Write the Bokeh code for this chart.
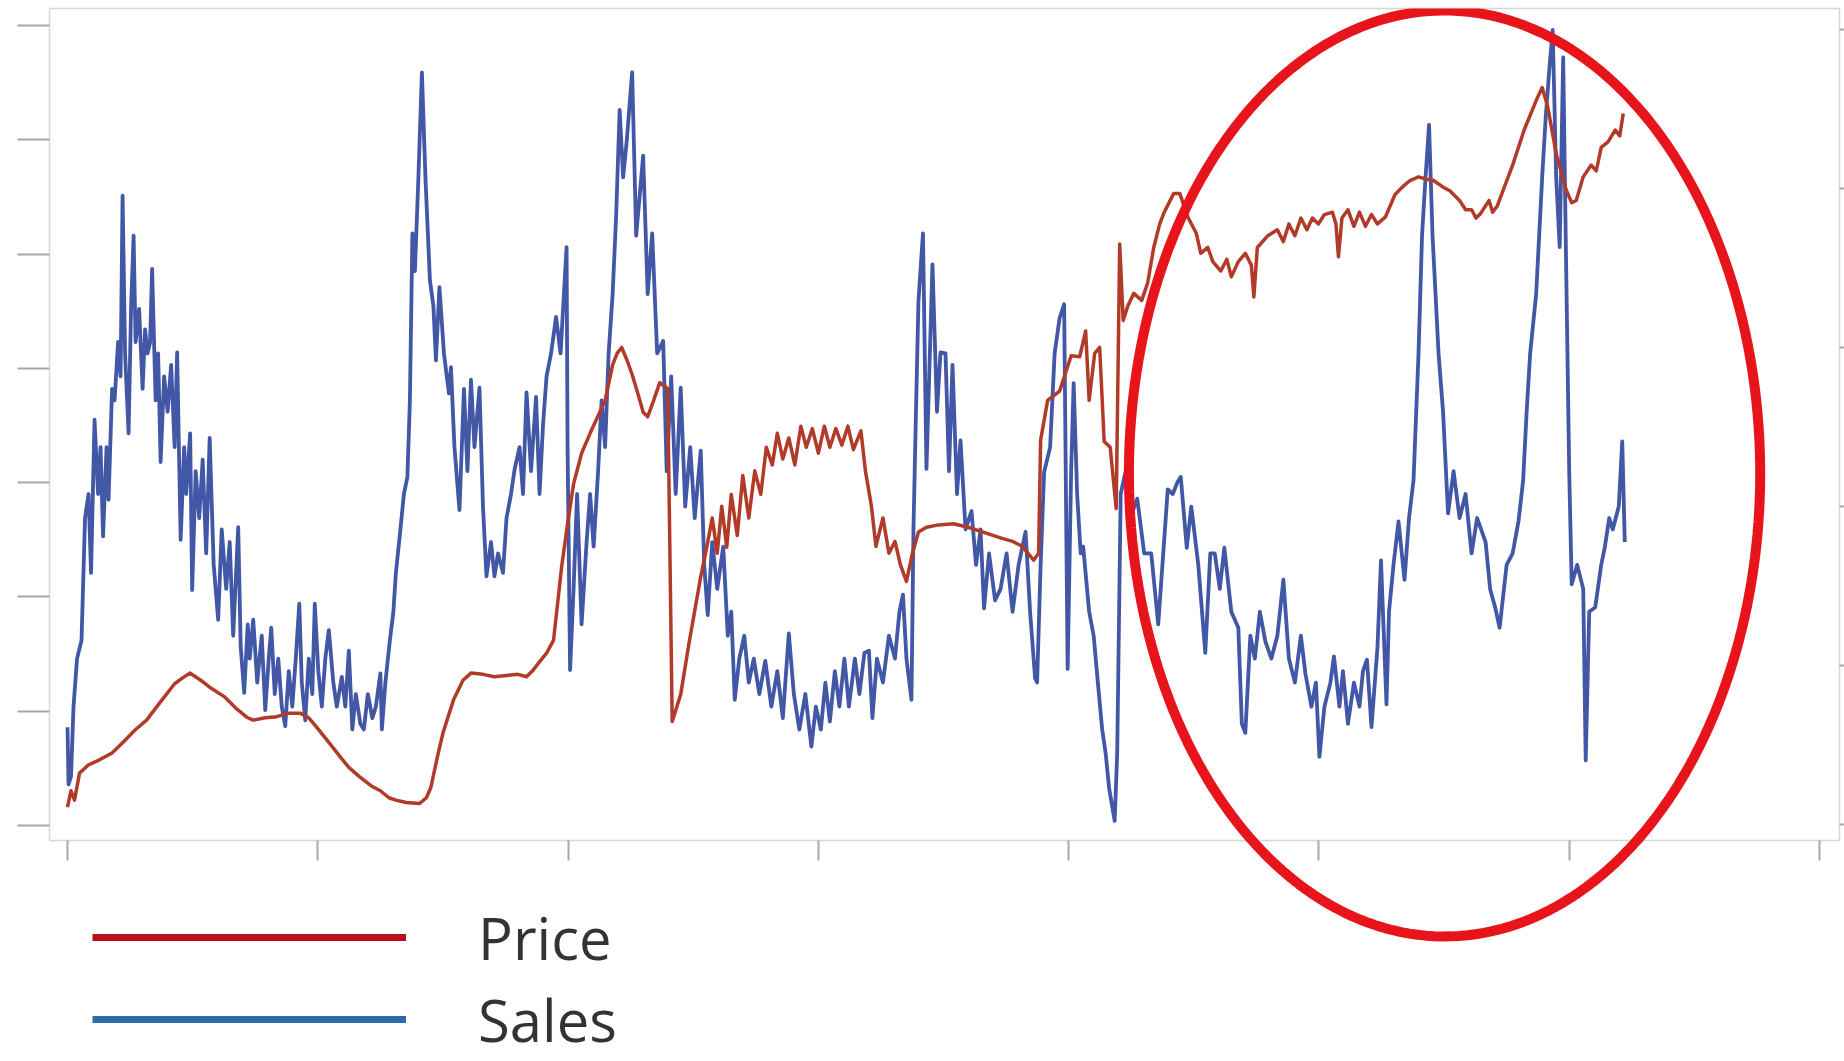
import numpy as np
from bokeh.plotting import figure
from bokeh.models import (Range1d, LinearAxis, FixedTicker, Legend, LegendItem,
                          PolyAnnotation)
from bokeh.embed import file_html
from bokeh.resources import INLINE

# ---- data ----
x_ticks = [0, 50, 100, 150, 200, 250, 300, 350]
sales_ticks = [0, 100, 200, 300, 400, 500, 600, 700]
price_ticks = [0, 100, 200, 300, 400, 500]

sales_x = [0, 0.2, 0.7, 1.2, 1.9, 2.8, 3.5, 4.2, 4.7, 5.4,
 6.1, 6.6, 7.1, 7.8, 8.2, 8.9, 9.4, 10.1, 10.6, 11.0,
 11.5, 12.2, 12.7, 13.2, 13.6, 14.3, 15.0, 15.5, 16.0, 16.5,
 16.9, 17.6, 18.1, 18.6, 19.3, 20.0, 20.7, 21.4, 21.9, 22.6,
 23.3, 23.7, 24.5, 24.9, 25.6, 26.3, 27.0, 27.7, 28.4, 29.2,
 30.1, 30.8, 31.7, 32.4, 33.1, 34.1, 34.6, 35.3, 36.0, 36.4,
 37.1, 37.9, 38.8, 39.5, 40.2, 40.7, 41.4, 42.1, 42.8, 43.5,
 44.2, 44.9, 45.6, 46.3, 46.8, 47.5, 48.2, 48.9, 49.4, 50.1,
 50.8, 51.5, 52.2, 53.1, 53.8, 54.8, 55.5, 56.2, 56.9, 57.6,
 58.5, 59.2, 60.0, 60.9, 61.6, 62.5, 62.8, 63.5, 64.4, 65.1,
 65.6, 66.5, 67.2, 67.9, 68.4, 68.9, 69.4, 70.1, 70.8, 71.5,
 72.4, 73.1, 73.6, 74.3, 75.2, 76.2, 76.6, 77.3, 78.3, 79.2,
 79.9, 80.6, 81.3, 82.3, 83.0, 83.7, 84.6, 85.3, 86.0, 87.0,
 87.7, 88.6, 89.3, 90.3, 91.0, 91.7, 92.6, 93.6, 94.3, 95.0,
 95.7, 96.6, 97.6, 98.5, 99.7, 99.9, 100.4, 101.1, 101.8, 102.7,
 103.7, 104.4, 105.1, 106.0, 106.7, 107.4, 108.1, 108.9, 109.6, 110.3,
 111.0, 111.7, 112.8, 113.6, 115.0, 115.9, 116.8, 117.8, 119.0, 119.7,
 120.6, 121.5, 122.5, 123.4, 124.4, 125.3, 126.5, 127.2, 127.9, 128.8,
 129.8, 131.0, 131.9, 132.6, 133.3, 134.2, 135.2, 136.1, 137.1, 138.2,
 139.4, 140.6, 141.8, 142.9, 144.1, 145.1, 146.2, 147.4, 148.6, 149.5,
 150.5, 151.4, 152.3, 153.3, 154.2, 155.2, 156.1, 157.3, 158.2, 159.2,
 160.1, 160.8, 161.7, 162.9, 164.1, 165.3, 166.2, 166.9, 167.6, 168.6,
 169.0, 169.5, 170.0, 170.9, 171.6, 172.8, 173.7, 174.4, 175.4, 176.1,
 176.8, 177.7, 178.4, 179.4, 180.6, 181.5, 182.4, 183.1, 184.1, 185.3,
 186.4, 187.6, 188.8, 190.0, 191.4, 192.3, 193.3, 193.7, 194.4, 195.1,
 196.3, 197.2, 198.2, 199.1, 199.8, 200.5, 201.0, 201.7, 202.4, 202.9,
 204.1, 205.0, 205.9, 206.7, 207.4, 208.1, 209.2, 209.7, 210.4, 211.4,
 212.3, 213.7, 215.1, 216.5, 217.9, 218.9, 219.8, 220.8, 221.7, 222.4,
 223.6, 224.5, 225.9, 227.3, 228.3, 229.2, 230.2, 231.1, 232.5, 233.9,
 234.6, 235.3, 236.3, 237.2, 238.2, 239.3, 240.5, 241.7, 242.9, 244.0,
 245.2, 246.4, 247.3, 248.5, 249.4, 250.1, 251.1, 252.3, 253.0, 254.1,
 254.8, 255.8, 257.0, 258.1, 258.8, 259.6, 260.5, 261.7, 262.4, 263.5,
 264.0, 264.9, 265.9, 267.1, 268.0, 268.9, 269.9, 270.6, 271.3, 272.0,
 272.7, 273.9, 274.8, 275.8, 276.9, 278.1, 279.3, 280.5, 281.6, 283.3,
 284.2, 285.2, 286.1, 287.5, 288.7, 289.9, 290.8, 291.5, 292.2, 293.4,
 294.6, 295.3, 296.0, 296.7, 297.4, 298.1, 298.8, 299.3, 300.0, 300.5,
 301.6, 302.8, 303.3, 304.0, 305.2, 306.4, 307.1, 308.0, 308.7, 309.9,
 310.6, 311.1]

sales = [86, 36, 43, 104, 146, 162, 269, 290, 221, 355,
 290, 331, 253, 331, 285, 382, 372, 423, 393, 551,
 413, 343, 454, 516, 423, 452, 382, 434, 413, 423,
 487, 372, 413, 318, 393, 362, 403, 331, 414, 250,
 331, 290, 343, 206, 310, 269, 320, 238, 339, 228,
 180, 259, 207, 248, 166, 261, 156, 116, 176, 146,
 180, 125, 166, 101, 146, 173, 115, 146, 104, 87,
 135, 104, 146, 194, 125, 92, 146, 115, 194, 135,
 104, 146, 171, 125, 104, 130, 104, 153, 84, 115,
 89, 84, 115, 94, 104, 133, 84, 125, 162, 187,
 221, 259, 290, 305, 372, 518, 485, 567, 659, 567,
 477, 454, 407, 471, 413, 378, 401, 331, 276, 382,
 310, 390, 331, 383, 279, 218, 248, 218, 238, 221,
 269, 290, 311, 331, 290, 379, 310, 375, 290, 351,
 393, 413, 445, 413, 506, 331, 136, 207, 290, 176,
 248, 290, 244, 310, 372, 331, 413, 465, 533, 626,
 567, 598, 659, 516, 586, 465, 518, 413, 424, 310,
 393, 290, 383, 279, 331, 269, 328, 228, 184, 248,
 207, 244, 166, 187, 110, 146, 166, 125, 146, 115,
 144, 104, 135, 94, 168, 115, 84, 115, 69, 104,
 84, 125, 91, 135, 104, 146, 104, 146, 115, 151,
 153, 94, 146, 125, 166, 146, 187, 202, 146, 110,
 259, 362, 459, 518, 312, 491, 362, 414, 413, 310,
 403, 290, 337, 259, 275, 228, 259, 190, 238, 197,
 207, 238, 187, 228, 257, 187, 129, 125, 228, 309,
 331, 413, 444, 456, 137, 310, 387, 290, 238, 244,
 187, 166, 122, 84, 63, 32, 4, 63, 290, 310,
 269, 286, 238, 238, 176, 238, 294, 290, 300, 305,
 243, 279, 228, 151, 238, 238, 207, 243, 187, 173,
 89, 81, 166, 146, 187, 161, 146, 166, 215, 146,
 125, 166, 133, 104, 125, 60, 104, 125, 148, 104,
 135, 89, 125, 104, 135, 145, 86, 156, 232, 106,
 187, 228, 266, 215, 269, 302, 413, 516, 567, 613,
 516, 413, 362, 273, 310, 269, 290, 238, 269, 248,
 207, 191, 173, 228, 238, 267, 302, 362, 413, 465,
 567, 619, 660, 696, 567, 506, 672, 516, 310, 211,
 228, 207, 57, 187, 191, 228, 243, 269, 259, 279,
 336, 248]

price_x = [0, 0.7, 1.4, 2.4, 4.2, 6.3, 8.9, 11.3, 13.6, 15.8,
 18.3, 21.4, 23.0, 24.5, 26.6, 28.4, 31.3, 33.9, 36.0, 37.1,
 39.5, 41.8, 44.2, 46.5, 48.2, 49.8, 52.4, 54.8, 56.2, 58.3,
 60.7, 62.5, 64.2, 65.6, 67.7, 70.3, 71.7, 72.6, 73.8, 75.0,
 77.1, 79.0, 80.6, 83.0, 85.3, 87.7, 90.0, 91.7, 92.9, 94.0,
 95.7, 97.1, 98.7, 99.9, 101.1, 102.7, 104.4, 105.8, 107.4, 108.9,
 109.8, 110.7, 111.7, 112.8, 114.0, 115.0, 115.9, 117.1, 118.3, 119.9,
 120.8, 122.5, 124.1, 126.5, 127.7, 128.8, 129.8, 130.7, 131.7, 132.6,
 133.8, 134.9, 136.1, 137.3, 138.5, 139.6, 140.8, 141.8, 142.9, 144.1,
 145.3, 146.5, 147.6, 148.8, 150.0, 151.2, 152.3, 153.5, 154.7, 155.9,
 157.0, 158.5, 159.4, 160.6, 161.5, 162.9, 164.1, 165.3, 166.4, 167.6,
 168.8, 170.0, 171.6, 174.0, 177.0, 179.9, 182.9, 186.4, 188.8, 190.7,
 193.0, 194.0, 194.4, 195.8, 198.2, 200.5, 202.2, 203.4, 204.1, 205.2,
 206.2, 207.1, 208.3, 209.5, 210.2, 210.9, 211.8, 213.0, 214.6, 215.8,
 217.0, 218.2, 219.1, 221.0, 222.2, 223.8, 225.5, 226.4, 227.8, 228.8,
 230.4, 231.6, 232.5, 233.9, 235.3, 236.5, 237.0, 237.7, 239.8, 241.7,
 242.9, 244.0, 245.2, 246.4, 247.6, 248.7, 249.9, 251.1, 252.7, 253.4,
 253.9, 254.6, 255.8, 257.0, 258.1, 259.3, 260.5, 261.7, 263.3, 265.2,
 266.8, 268.2, 269.9, 271.5, 272.9, 274.6, 276.2, 278.1, 279.3, 280.5,
 281.4, 282.3, 284.0, 284.7, 285.6, 287.0, 288.7, 291.0, 293.4, 294.6,
 295.7, 297.4, 299.3, 300.5, 301.4, 302.8, 304.4, 305.4, 306.4, 307.8,
 309.2, 310.1, 310.8]

price = [10.9, 21.2, 15.3, 32.3, 37.5, 40.5, 44.9, 52.3, 59.7, 65.6,
 76.0, 88.5, 92.2, 95.2, 90.7, 86.3, 80.4, 72.3, 67.1, 65.6,
 67.1, 67.8, 70.0, 70.0, 67.1, 61.1, 50.8, 41.2, 35.9, 30.1,
 24.2, 21.2, 16.8, 15.3, 13.8, 13.1, 16.8, 23.4, 41.2, 57.5,
 78.2, 90.7, 95.2, 94.4, 92.9, 93.7, 94.4, 92.9, 96.6, 101.1,
 107.7, 115.9, 161.7, 189.1, 214.2, 233.5, 246.0, 255.6, 266.7, 289.0,
 296.3, 300.0, 292.6, 283.0, 270.4, 259.3, 256.4, 266.7, 277.8, 274.1,
 64.8, 81.8, 112.9, 155.8, 174.3, 192.8, 170.6, 200.2, 174.3, 207.6,
 181.7, 219.4, 192.8, 222.4, 207.6, 237.2, 226.1, 246.0, 229.8, 243.1,
 226.1, 250.5, 237.2, 249.0, 233.5, 250.5, 237.2, 249.0, 238.6, 250.5,
 235.7, 247.6, 222.4, 200.2, 175.0, 192.8, 170.6, 178.0, 163.2, 152.8,
 170.6, 183.9, 186.9, 188.4, 189.1, 186.9, 183.9, 180.2, 178.0, 175.0,
 166.2, 170.6, 241.6, 266.7, 272.6, 294.8, 294.1, 310.4, 266.7, 296.3,
 300.0, 240.9, 237.2, 198.7, 365.1, 317.0, 325.9, 334.0, 329.6, 340.7,
 362.9, 377.7, 385.1, 396.9, 396.9, 382.1, 371.8, 359.2, 362.9, 354.0,
 348.1, 355.5, 344.4, 354.0, 359.2, 351.8, 331.8, 362.9, 370.3, 374.0,
 366.6, 377.7, 370.3, 381.4, 374.0, 381.4, 377.7, 383.6, 385.1, 377.7,
 357.0, 381.4, 386.6, 376.2, 385.1, 376.2, 383.6, 377.7, 382.1, 396.2,
 401.3, 405.0, 407.3, 405.8, 405.0, 401.3, 398.4, 392.5, 386.6, 386.6,
 381.4, 384.3, 392.5, 385.1, 388.8, 400.6, 414.7, 436.8, 455.3, 463.5,
 451.6, 422.1, 399.9, 391.0, 392.5, 407.3, 414.7, 411.0, 425.8, 429.5,
 436.8, 433.1, 447.2]

series_labels = ["Price", "Sales"]

# plot box limits (value at the bottom edge of the plot box)
sales_bottom, sales_top = -13.12, 714.8
price_bottom, price_top = -10.06, 513.2

# ---- figure: the frame also spans the legend area below the plot box ----
p = figure(width=1844, height=1061, output_backend="svg", toolbar_location=None,
           x_range=Range1d(-3.6, 354.0), y_range=Range1d(-206.5, sales_top),
           x_axis_location=None, y_axis_location=None,
           min_border_left=49, min_border_right=0, min_border_top=8,
           min_border_bottom=0)
p.extra_y_ranges = {"price": Range1d(-149.1, price_top)}
p.background_fill_color = "white"
p.border_fill_color = "white"
p.outline_line_color = None
p.grid.grid_line_color = None

left = LinearAxis(ticker=FixedTicker(ticks=sales_ticks, minor_ticks=[]),
                  bounds=(sales_bottom, sales_top))
right = LinearAxis(y_range_name="price",
                   ticker=FixedTicker(ticks=price_ticks, minor_ticks=[]),
                   bounds=(price_bottom, price_top))
bottom = LinearAxis(ticker=FixedTicker(ticks=x_ticks, minor_ticks=[]),
                    fixed_location=sales_bottom)
top = LinearAxis(ticker=FixedTicker(ticks=[], minor_ticks=[]))
for ax in (left, right, bottom, top):
    ax.major_label_text_font_size = "1px"
    ax.major_label_text_color = None
    ax.major_label_standoff = 0
    ax.major_tick_in = 0
    ax.axis_line_color = "#d6d6d6"
    ax.axis_line_width = 1.5
    ax.major_tick_line_color = "#a8a8a8"
    ax.major_tick_line_width = 2
    ax.minor_tick_line_color = None
left.major_tick_out = 32
right.major_tick_out = 5
bottom.major_tick_out = 20
top.major_tick_out = 0
p.add_layout(left, "left")
p.add_layout(right, "right")
p.add_layout(bottom, "below")
p.add_layout(top, "above")

p.line(sales_x, sales, line_color="#4257A6", line_width=3.8, line_join="round")
p.line(price_x, price, y_range_name="price", line_color="#B23A28",
       line_width=3.5, line_join="round")

# legend swatches (legend colours differ slightly from plotted lines);
# single-point lines draw nothing in the plot area
leg_price = p.line([price_x[0]], [price[0]], y_range_name="price",
                   line_color="#B8101C", line_width=7)
leg_sales = p.line([sales_x[0]], [sales[0]], line_color="#2A6CA8", line_width=7)
legend = Legend(items=[LegendItem(label=series_labels[0], renderers=[leg_price]),
                       LegendItem(label=series_labels[1], renderers=[leg_sales])],
                location=(43, 1), orientation="vertical",
                glyph_width=314, glyph_height=82, label_height=82,
                label_standoff=72, spacing=-12, margin=0, padding=10,
                border_line_color=None, background_fill_alpha=0,
                label_text_font="Open Sans", label_text_font_size="58px",
                label_text_color="#333333")
p.add_layout(legend, "center")

# red highlight ellipse
t = np.linspace(0, 2 * np.pi, 240)
cx, cy, rx, ry = 275.1, 308.0, 63.06, 405.1
p.add_layout(PolyAnnotation(xs=list(cx + rx * np.cos(t)), ys=list(cy + ry * np.sin(t)),
                            fill_alpha=0, line_alpha=1.0,
                            line_color="#E8141C", line_width=10))

open("out.html", "w").write(file_html(p, INLINE))
